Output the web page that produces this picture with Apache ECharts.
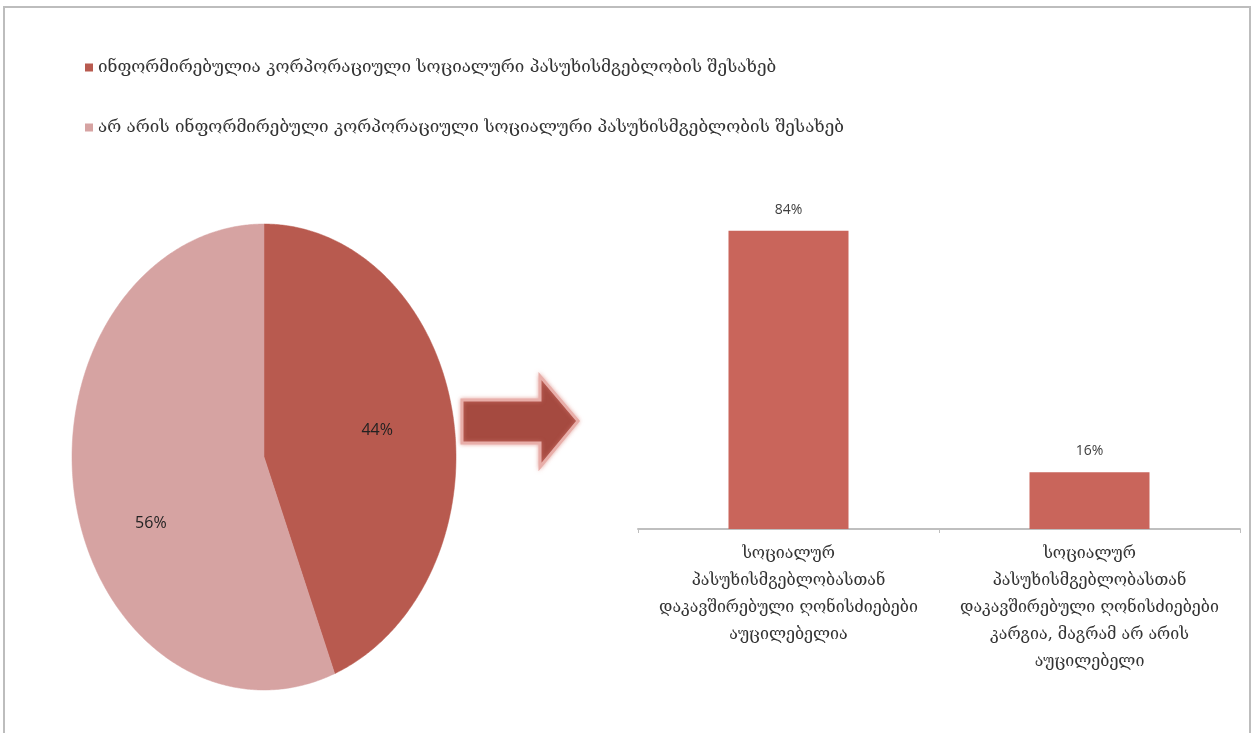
<!DOCTYPE html>
<html>
<head>
<meta charset="utf-8">
<style>
  html, body { margin: 0; padding: 0; background: #fff; }
  #chart { width: 1258px; height: 733px; }
</style>
<script src="https://cdn.jsdelivr.net/npm/echarts@6/dist/echarts.min.js"></script>
</head>
<body>
<div id="chart"></div>
<script>
// Awareness of corporate social responsibility (pie) and views on CSR activities (bar)
const pieNames = [
  'ინფორმირებულია კორპორაციული სოციალური პასუხისმგებლობის შესახებ',
  'არ არის ინფორმირებული კორპორაციული სოციალური პასუხისმგებლობის შესახებ'
];
const pieValues = [44, 56];

const barCategories = [
  'სოციალურ\nპასუხისმგებლობასთან\nდაკავშირებული ღონისძიებები\nაუცილებელია',
  'სოციალურ\nპასუხისმგებლობასთან\nდაკავშირებული ღონისძიებები\nკარგია, მაგრამ არ არის\nაუცილებელი'
];
const barValues = [84, 16];

// Styling / layout
const pieColors = ['#B85A4F', '#D6A3A2'];
const barColor = '#C9655B';
const pieLayout = { cx: 264, cy: 457, rx: 192, ry: 233 };
const pieLabelOffsets = [[0, 0], [0, 40]];
const georgianFont = '"DejaVu Serif", "DejaVu Sans", serif';
const numFont = '"Liberation Sans Narrow", "Open Sans", sans-serif';

const pieTotal = pieValues.reduce((a, b) => a + b, 0);

// Elliptical pie slice, angles measured clockwise from 12 o'clock
function pointAt(theta, f) {
  return [
    pieLayout.cx + pieLayout.rx * f * Math.sin(theta),
    pieLayout.cy - pieLayout.ry * f * Math.cos(theta)
  ];
}

function makeSliceRenderer(index) {
  return function (params, api) {
    const before = pieValues.slice(0, index).reduce((a, b) => a + b, 0);
    const value = api.value(0);
    const a0 = before / pieTotal * Math.PI * 2;
    const a1 = (before + value) / pieTotal * Math.PI * 2;
    const pts = [[pieLayout.cx, pieLayout.cy]];
    const steps = Math.max(8, Math.ceil((a1 - a0) / (Math.PI / 360)));
    for (let i = 0; i <= steps; i++) {
      pts.push(pointAt(a0 + (a1 - a0) * i / steps, 1));
    }
    const mid = (a0 + a1) / 2;
    const lp = pointAt(mid, 0.6);
    const off = pieLabelOffsets[index];
    return {
      type: 'group',
      children: [
        {
          type: 'polygon',
          shape: { points: pts },
          style: { fill: api.visual('color'), stroke: api.visual('color'), lineWidth: 0.5 }
        },
        {
          type: 'text',
          x: lp[0] + off[0],
          y: lp[1] + off[1],
          style: {
            text: Math.round(value / pieTotal * 100) + '%',
            fill: '#222',
            font: '16px ' + numFont,
            align: 'center',
            verticalAlign: 'middle'
          }
        }
      ]
    };
  };
}

const chart = echarts.init(document.getElementById('chart'));

const sliceSeries = pieNames.map((name, i) => ({
  type: 'custom',
  name: name,
  coordinateSystem: 'none',
  itemStyle: { color: pieColors[i] },
  renderItem: makeSliceRenderer(i),
  data: [[pieValues[i]]],
  silent: true
}));

chart.setOption({
  animation: false,
  backgroundColor: '#fff',
  legend: {
    orient: 'vertical',
    left: 80,
    top: 54,
    itemGap: 43,
    itemWidth: 8,
    itemHeight: 8,
    icon: 'rect',
    data: pieNames,
    textStyle: { fontFamily: georgianFont, fontSize: 17, color: '#333' },
    selectedMode: false
  },
  grid: { left: 638, right: 18, top: 174, bottom: 204 },
  xAxis: {
    type: 'category',
    data: barCategories,
    axisLine: { lineStyle: { color: '#BFBFBF', width: 2 } },
    axisTick: { show: true, length: 4, lineStyle: { color: '#BFBFBF' } },
    axisLabel: {
      interval: 0,
      margin: 11,
      fontFamily: georgianFont,
      fontSize: 16,
      lineHeight: 27,
      color: '#333',
      align: 'center'
    }
  },
  yAxis: { type: 'value', min: 0, max: 100, show: false },
  graphic: [
    { type: 'line', shape: { x1: 3, y1: 7, x2: 1251, y2: 7 }, style: { stroke: '#BDBDBD', lineWidth: 2 } },
    { type: 'line', shape: { x1: 4, y1: 7, x2: 4, y2: 733 }, style: { stroke: '#BDBDBD', lineWidth: 2 } },
    { type: 'line', shape: { x1: 1250, y1: 7, x2: 1250, y2: 733 }, style: { stroke: '#BDBDBD', lineWidth: 2 } },
    {
      type: 'polygon',
      shape: { points: [[462, 400], [540, 400], [540, 376], [578, 421], [540, 467], [540, 443], [462, 443]] },
      style: {
        fill: '#A54A40', stroke: '#E8AEA9', lineWidth: 3,
        shadowBlur: 4, shadowColor: 'rgba(220,130,120,0.6)'
      }
    }
  ],
  series: sliceSeries.concat([{
    type: 'bar',
    name: 'bars',
    data: barValues,
    barWidth: 120,
    itemStyle: { color: barColor },
    label: {
      show: true,
      position: 'top',
      distance: 14,
      formatter: '{c}%',
      fontFamily: numFont,
      fontSize: 14,
      color: '#404040'
    },
    silent: true
  }])
});
</script>
</body>
</html>
